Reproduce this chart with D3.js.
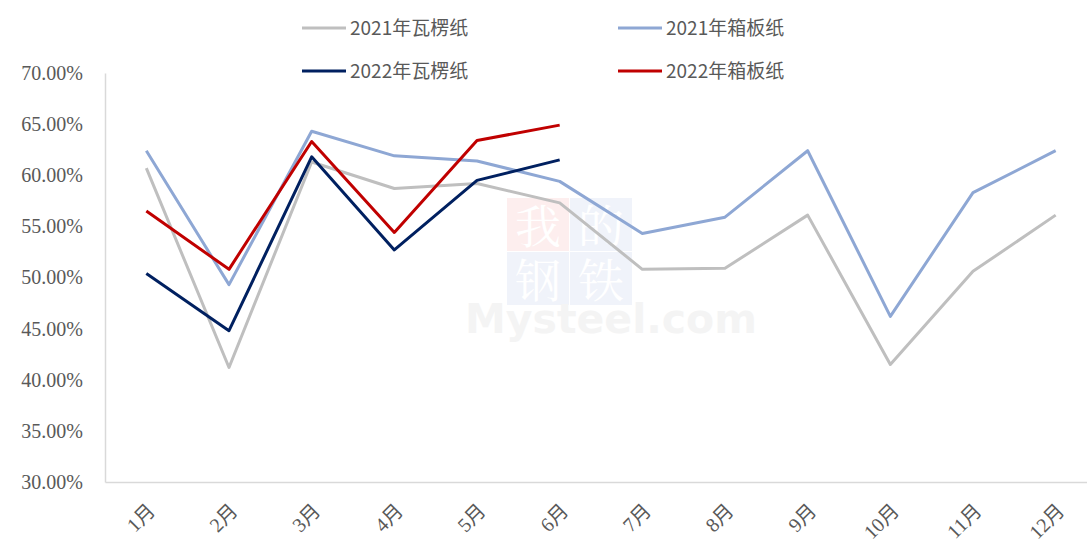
<!DOCTYPE html>
<html>
  <head>
    <meta charset="utf-8">
    <title>瓦楞纸 / 箱板纸</title>
    <script src="https://d3js.org/d3.v7.min.js"></script>
    <style>
      body { margin: 0; background: #fff; }
      svg { display: block; }
    </style>
  </head>
  <body>
    <div id="chart"></div>
    <script>
      // months on the x axis
      var months = ["1月", "2月", "3月", "4月", "5月", "6月", "7月", "8月", "9月", "10月", "11月", "12月"];
      var yTicks = [30, 35, 40, 45, 50, 55, 60, 65, 70];

      // values in percent
      var wlz2021 = [60.7, 41.2, 61.3, 58.7, 59.2, 57.3, 50.8, 50.9, 56.1, 41.5, 50.6, 56.1];
      var xbz2021 = [62.4, 49.3, 64.3, 61.9, 61.4, 59.4, 54.3, 55.9, 62.4, 46.2, 58.3, 62.4];
      var wlz2022 = [50.4, 44.8, 61.8, 52.7, 59.5, 61.5];
      var xbz2022 = [56.5, 50.8, 63.3, 54.4, 63.4, 64.9];

      var seriesNames = ["2021年瓦楞纸", "2021年箱板纸", "2022年瓦楞纸", "2022年箱板纸"];
      var seriesColors = ["#bfbfbf", "#8ea7d4", "#002060", "#c00000"];
      var seriesData = [wlz2021, xbz2021, wlz2022, xbz2022];

      var width = 1087, height = 542;
      var plotL = 105, plotR = 1097, plotT = 73, plotB = 482;

      var svg = d3.select("#chart").append("svg")
        .attr("width", width)
        .attr("height", height);

      var x = d3.scaleBand().domain(months).range([plotL, plotR]);
      var y = d3.scaleLinear().domain([30, 70]).range([plotB, plotT]);

      // watermark
      var wm = svg.append("g").attr("transform", "translate(507,198)");
      var wmChars = ["我", "的", "钢", "铁"];
      wmChars.forEach(function(c, i) {
        var cx = (i % 2) * 63, cy = Math.floor(i / 2) * 54;
        wm.append("rect").attr("x", cx).attr("y", cy).attr("width", 62).attr("height", 53)
          .attr("fill", i === 0 ? "#fdeeee" : "#f0f3fa");
        wm.append("text").attr("x", cx + 31).attr("y", cy + 45)
          .attr("text-anchor", "middle")
          .attr("font-family", "'Noto Serif CJK SC', 'Noto Sans CJK SC', serif")
          .attr("font-size", 46).attr("fill", "#fff").text(c);
      });
      svg.append("text").attr("x", 465).attr("y", 333)
        .attr("font-family", "'DejaVu Sans', sans-serif").attr("font-weight", "bold")
        .attr("font-size", 41).attr("fill", "#f4f4f4").text("Mysteel.com");

      // axes
      var yAxis = svg.append("g").attr("transform", "translate(" + plotL + ",0)")
        .call(d3.axisLeft(y).tickValues(yTicks).tickSize(0).tickPadding(22)
          .tickFormat(function(d) { return d.toFixed(2) + "%"; }));
      yAxis.select(".domain").attr("stroke", "#d9d9d9").attr("stroke-width", 1.5);
      yAxis.selectAll("text")
        .attr("font-family", "'Liberation Serif', serif")
        .attr("font-size", 20).attr("fill", "#595959");

      var xAxis = svg.append("g").attr("transform", "translate(0," + plotB + ")")
        .call(d3.axisBottom(x).tickSize(0).tickFormat(""));
      xAxis.select(".domain").attr("stroke", "#d9d9d9").attr("stroke-width", 1.5);

      svg.append("g").selectAll("text")
        .data(months)
        .join("text")
        .attr("transform", function(d) {
          return "translate(" + (x(d) + x.bandwidth() / 2 + 10) + ",512) rotate(-45)";
        })
        .attr("text-anchor", "end")
        .attr("font-family", "'Liberation Serif', 'Noto Sans CJK SC', serif")
        .attr("font-size", 20).attr("fill", "#595959")
        .text(function(d) { return d; });

      // lines
      var line = d3.line()
        .x(function(d, i) { return x(months[i]) + x.bandwidth() / 2; })
        .y(function(d) { return y(d); });

      seriesData.forEach(function(s, i) {
        svg.append("path")
          .datum(s)
          .attr("fill", "none")
          .attr("stroke", seriesColors[i])
          .attr("stroke-width", 3)
          .attr("stroke-linejoin", "round")
          .attr("d", line);
      });

      // legend
      var legendPos = [[302, 28], [618, 28], [302, 71], [618, 71]];
      seriesNames.forEach(function(name, i) {
        var g = svg.append("g").attr("transform", "translate(" + legendPos[i][0] + "," + legendPos[i][1] + ")");
        g.append("line").attr("x1", 0).attr("x2", 44).attr("y1", 0).attr("y2", 0)
          .attr("stroke", seriesColors[i]).attr("stroke-width", 3);
        g.append("text").attr("x", 48).attr("y", 0).attr("dy", "0.35em")
          .attr("font-family", "'Noto Sans CJK SC', sans-serif")
          .attr("font-size", 19).attr("fill", "#595959")
          .text(name);
      });
    </script>
  </body>
</html>
